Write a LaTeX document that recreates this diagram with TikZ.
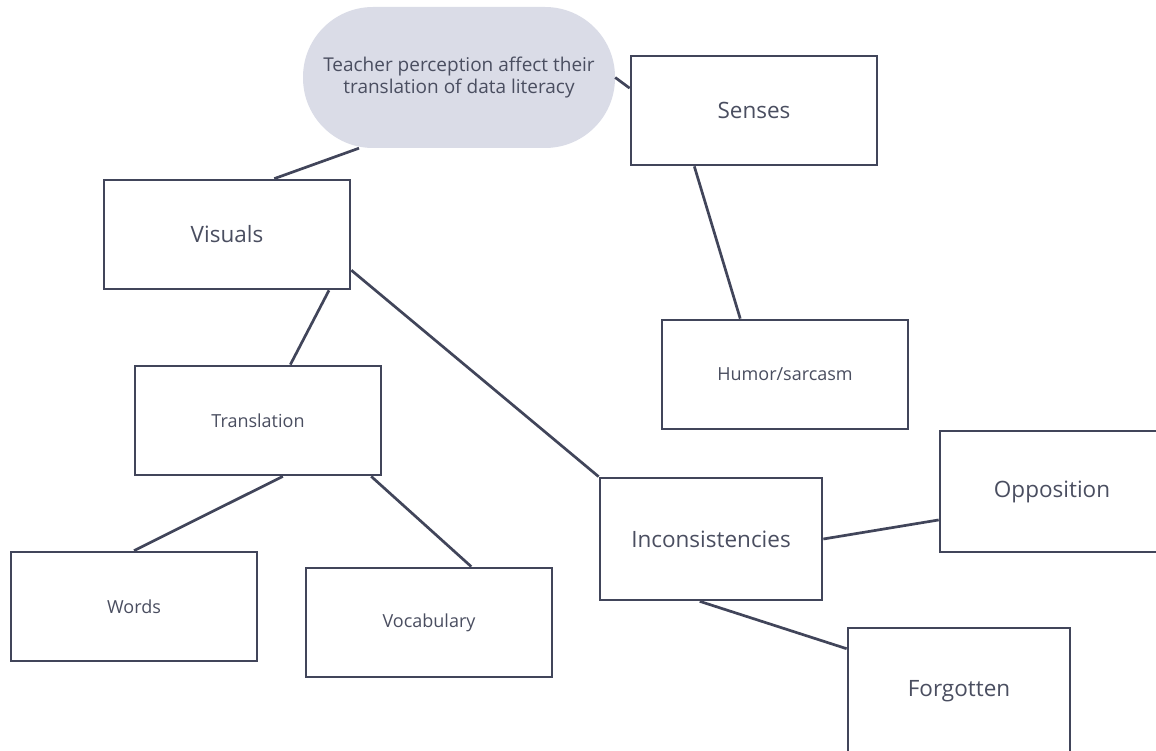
\documentclass[tikz,border=0pt]{standalone}
\usepackage{fontspec}
\setmainfont{Open Sans}
\usetikzlibrary{calc}
\definecolor{MapInk}{HTML}{41455A}
\definecolor{MapText}{HTML}{4A4E60}
\definecolor{MapBubble}{HTML}{DADCE7}

\begin{document}
\begin{tikzpicture}[x=1pt, y=-1pt,
    topic/.style={draw=MapInk, line width=2.7pt, fill=white, text=MapText,
        minimum width=246pt, minimum height=109pt, inner sep=0pt,
        font=\fontsize{22.5}{26}\selectfont},
    subtopic/.style={topic, font=\fontsize{18}{21}\selectfont},
    link/.style={MapInk, line width=2.7pt}]

    \useasboundingbox (0,0) rectangle (1156,751);

    % ========== Central idea ==========
    \node[fill=MapBubble, rounded corners=70pt, minimum width=312pt, minimum height=141pt,
        inner sep=0pt, text=MapText, align=center, font=\fontsize{19}{22}\selectfont]
        (idea) at (459,77.5) {Teacher perception affect their\\translation of data literacy};

    % ========== Boxes ==========
    \node[topic] (senses) at (754,110.5) {Senses};
    \node[topic] (visuals) at (227,234.5) {Visuals};
    \node[subtopic] (humor) at (785,374.5) {Humor/sarcasm};
    \node[subtopic] (transl) at (258,420.5) {Translation};
    \node[topic, minimum width=260pt, minimum height=121pt] (oppos) at (1070,491.5) {Opposition\hspace*{36pt}};
    \node[topic, minimum width=222pt, minimum height=122pt] (incons) at (711,539) {Inconsistencies};
    \node[topic, minimum width=222pt, minimum height=127pt] (forgot) at (959,691.5) {Forgotten};
    \node[subtopic] (words) at (134,606.5) {Words};
    \node[subtopic] (vocab) at (429,622.5) {Vocabulary};

    % ========== Links ==========
    \draw[link] ($(idea.south west)!0.18!(idea.south east)$) -- ($(visuals.north west)!0.69!(visuals.north east)$);
    \draw[link] (idea.east) -- ($(senses.north west)!0.3!(senses.south west)$);
    \draw[link] ($(senses.south west)!0.26!(senses.south east)$) -- ($(humor.north west)!0.32!(humor.north east)$);
    \draw[link] ($(visuals.south west)!0.91!(visuals.south east)$) -- ($(transl.north west)!0.63!(transl.north east)$);
    \draw[link] ($(visuals.north east)!0.82!(visuals.south east)$) -- (incons.north west);
    \draw[link] ($(transl.south west)!0.6!(transl.south east)$) -- (words.north);
    \draw[link] ($(transl.south west)!0.955!(transl.south east)$) -- ($(vocab.north west)!0.67!(vocab.north east)$);
    \draw[link] (incons.east) -- ($(oppos.north west)!0.73!(oppos.south west)$);
    \draw[link] ($(incons.south west)!0.45!(incons.south east)$) -- ($(forgot.north west)!0.17!(forgot.south west)$);

\end{tikzpicture}
\end{document}
